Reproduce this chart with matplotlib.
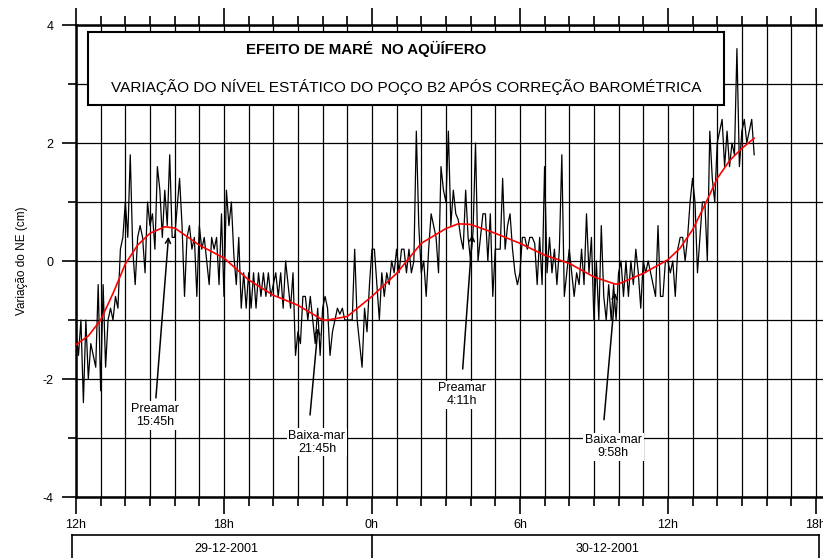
import matplotlib
matplotlib.use("Agg")
import matplotlib.pyplot as plt
from matplotlib.patches import Rectangle
from matplotlib.ticker import MultipleLocator, FixedLocator, FixedFormatter
import numpy as np

plt.rcParams['font.family'] = ['Liberation Sans', 'DejaVu Sans']

# nivel (cm) lido a cada 6 min, a partir das 12h de 29-12-2001
inicio_h = 12.0
passo_h = 0.1
nivel = [
    # 12h
    -1.2, -1.6, -1.0, -2.4, -1.0, -2.0, -1.4, -1.6, -1.8, -0.4,
    # 13h
    -2.2, -0.4, -1.8, -1.0, -0.8, -1.0, -0.6, -0.8, 0.2, 0.4,
    # 14h
    1.0, 0.4, 1.8, 0.2, -0.4, 0.4, 0.6, 0.4, -0.2, 1.0,
    # 15h
    0.6, 0.8, 0.2, 1.6, 1.2, 0.4, 1.2, 0.6, 1.8, 0.4,
    # 16h
    0.4, 0.9, 1.4, 0.6, -0.6, 0.4, 0.6, 0.2, 0.4, -0.6,
    # 17h
    0.6, 0.2, 0.4, 0.0, -0.4, 0.4, 0.2, 0.4, -0.4, 0.8,
    # 18h
    -0.6, 1.2, 0.6, 1.0, 0.1, -0.4, 0.4, -0.8, -0.2, -0.8,
    # 19h
    -0.2, -0.8, -0.2, -0.8, -0.2, -0.6, -0.2, -0.6, -0.2, -0.6,
    # 20h
    -0.4, -0.2, -0.6, -0.2, -0.8, 0.0, -0.4, -0.8, -0.2, -1.6,
    # 21h
    -1.2, -1.4, -0.6, -0.6, -1.0, -0.6, -1.0, -1.4, -0.8, -1.6,
    # 22h
    -0.8, -0.6, -0.8, -1.6, -1.2, -1.0, -0.8, -0.9, -0.8, -1.0,
    # 23h
    -1.0, -1.0, -1.0, 0.2, -1.0, -1.4, -1.8, -0.8, -1.2, -0.4,
    # 0h (30-12)
    0.2, 0.2, -0.4, -1.0, -0.2, -0.6, -0.2, -0.4, 0.0, -0.2,
    # 1h
    0.2, -0.2, 0.2, 0.2, -0.2, 0.2, -0.2, 0.0, 2.2, 0.6,
    # 2h
    -0.2, 0.0, -0.6, 0.2, 0.8, 0.6, 0.4, -0.2, 1.6, 1.2,
    # 3h
    1.0, 2.2, 0.6, 1.2, 0.8, 0.7, 0.4, 0.2, 1.2, 0.4,
    # 4h
    0.0, 0.5, 2.0, 0.0, 0.4, 0.8, 0.8, 0.0, 0.8, -0.6,
    # 5h
    0.2, 0.2, 0.2, 1.4, 0.2, 0.6, 0.8, 0.2, -0.2, -0.4,
    # 6h
    -0.2, 0.4, 0.4, 0.2, 0.4, 0.4, 0.3, -0.4, 0.4, -0.4,
    # 7h
    1.6, -0.2, 0.4, -0.2, 0.2, -0.4, 0.2, 1.8, -0.6, -0.2,
    # 8h
    0.2, -0.2, -0.6, -0.2, -0.4, 0.2, -0.4, 0.8, -0.2, 0.4,
    # 9h
    -1.0, 0.0, -1.0, 0.6, -0.6, -1.0, -0.4, -1.0, -0.4, -1.0,
    # 10h
    -0.2, 0.0, -0.6, 0.0, -0.6, 0.0, -0.4, 0.2, -0.2, -0.8,
    # 11h
    0.0, -0.2, 0.0, -0.2, -0.4, -0.6, 0.6, -0.6, -0.6, 0.0,
    # 12h
    0.0, -0.2, 0.0, -0.6, 0.2, 0.4, 0.4, 0.0, 0.4, 1.0,
    # 13h
    1.4, 1.0, -0.2, 0.4, 1.0, 1.0, 0.0, 2.2, 1.4, 1.0,
    # 14h
    2.0, 2.2, 2.4, 1.6, 2.2, 1.6, 2.0, 1.8, 3.6, 1.6,
    # 15h
    2.2, 2.4, 2.0, 2.2, 2.4, 1.8,
]

# curva ajustada (vermelha)
t_ajuste = [12, 12.5, 13, 13.5, 14, 14.5, 15, 15.6, 16, 17, 18, 19, 20, 21,
            22, 22.2, 23, 24, 25, 26, 27, 27.5, 28, 29, 30, 31, 32, 33,
            33.85, 34, 35, 36, 36.5, 37, 37.5, 38, 38.5, 39, 39.5]
v_ajuste = [-1.42, -1.27, -1.0, -0.55, -0.05, 0.27, 0.47, 0.58, 0.56, 0.27,
            0.05, -0.32, -0.58, -0.75, -1.0, -1.0, -0.94, -0.6, -0.21, 0.3,
            0.55, 0.63, 0.62, 0.47, 0.3, 0.1, -0.04, -0.27, -0.39, -0.39,
            -0.21, 0.02, 0.22, 0.53, 0.95, 1.4, 1.7, 1.91, 2.08]

# mares: texto, posicao do texto, inicio da seta, ponta da seta
mares = [
    ("Preamar\n15:45h", (15.22, -2.62), (15.24, -2.32), (15.75, 0.41)),
    ("Baixa-mar\n21:45h", (21.77, -3.07), (21.49, -2.61), (21.81, -1.14)),
    ("Preamar\n4:11h", (27.64, -2.27), (27.68, -1.83), (28.07, 0.44)),
    ("Baixa-mar\n9:58h", (33.78, -3.15), (33.41, -2.69), (33.86, -0.54)),
]

tick_pos = [12, 18, 24, 30, 36, 42]
tick_txt = ['12h', '18h', '0h', '6h', '12h', '18h']
datas = ['29-12-2001', '30-12-2001']

fig = plt.figure(figsize=(8.23, 5.58), dpi=100)
ax = fig.add_axes([76 / 823, 1 - 497 / 558, 1 - 76 / 823, 472 / 558])

t = inicio_h + passo_h * np.arange(len(nivel))
ax.plot(t, nivel, color='black', lw=0.9, zorder=3)
ax.plot(t_ajuste, v_ajuste, color='#ff0000', lw=1.2, zorder=4)

ax.set_xlim(12, 42.29)
ax.set_ylim(-4, 4)

ax.xaxis.set_major_locator(FixedLocator(tick_pos))
ax.xaxis.set_major_formatter(FixedFormatter(tick_txt))
ax.xaxis.set_minor_locator(MultipleLocator(1))
ax.set_yticks([-4, -2, 0, 2, 4])
ax.set_yticklabels(['-4', '-2', '0', '2', '4'])
ax.yaxis.set_minor_locator(MultipleLocator(1))

ax.grid(True, which='both', color='black', lw=0.9, zorder=1)
ax.set_axisbelow(True)

for s in ['left', 'bottom', 'top']:
    ax.spines[s].set_linewidth(1.8)
ax.spines['right'].set_visible(False)

ax.tick_params(axis='x', which='both', direction='out', top=True,
               labelsize=9, pad=3, width=1.2)
ax.tick_params(axis='x', which='major', length=12.5)
ax.tick_params(axis='x', which='minor', length=6.5)
ax.tick_params(axis='y', which='both', direction='out', labelsize=9,
               pad=6, width=1.2)
ax.tick_params(axis='y', which='major', length=10)
ax.tick_params(axis='y', which='minor', length=5.8)

fig.text(22 / 823, 1 - 261 / 558, 'Variação do NE (cm)', rotation=90,
         ha='center', va='center', fontsize=8.5)

# caixa do titulo
ax.add_patch(Rectangle((12.49, 2.64), 38.28 - 12.49, 3.88 - 2.64,
                       facecolor='white', edgecolor='black', lw=1.5, zorder=6))
ax.text(23.75, 3.59, 'EFEITO DE MARÉ  NO AQÜÍFERO', ha='center', va='center',
        fontsize=10.8, fontweight='bold', zorder=7)
ax.text(25.38, 2.95, 'VARIAÇÃO DO NÍVEL ESTÁTICO DO POÇO B2 APÓS CORREÇÃO BAROMÉTRICA',
        ha='center', va='center', fontsize=11.1, zorder=7)

for txt, pos, cauda, ponta in mares:
    ax.annotate('', xy=ponta, xytext=cauda, zorder=8,
                arrowprops=dict(arrowstyle='->,head_length=0.35,head_width=0.18',
                                color='black', lw=1.1, shrinkA=0, shrinkB=0))
    ax.text(pos[0], pos[1], txt, ha='center', va='center',
            fontsize=9, linespacing=1.1, zorder=9,
            bbox=dict(boxstyle='square,pad=0.15', fc='white', ec='none'))

# faixa das datas por baixo do eixo
ax.plot([11.84, 42.13], [-4.64, -4.64], color='black', lw=1.2, clip_on=False)
for xv in [11.84, 24.0, 42.13]:
    ax.plot([xv, xv], [-4.64, -5.1], color='black', lw=1.2, clip_on=False)
ax.text(18.1, -4.88, datas[0], ha='center', va='center', fontsize=9)
ax.text(33.57, -4.88, datas[1], ha='center', va='center', fontsize=9)

fig.savefig('out.png', dpi=100)
